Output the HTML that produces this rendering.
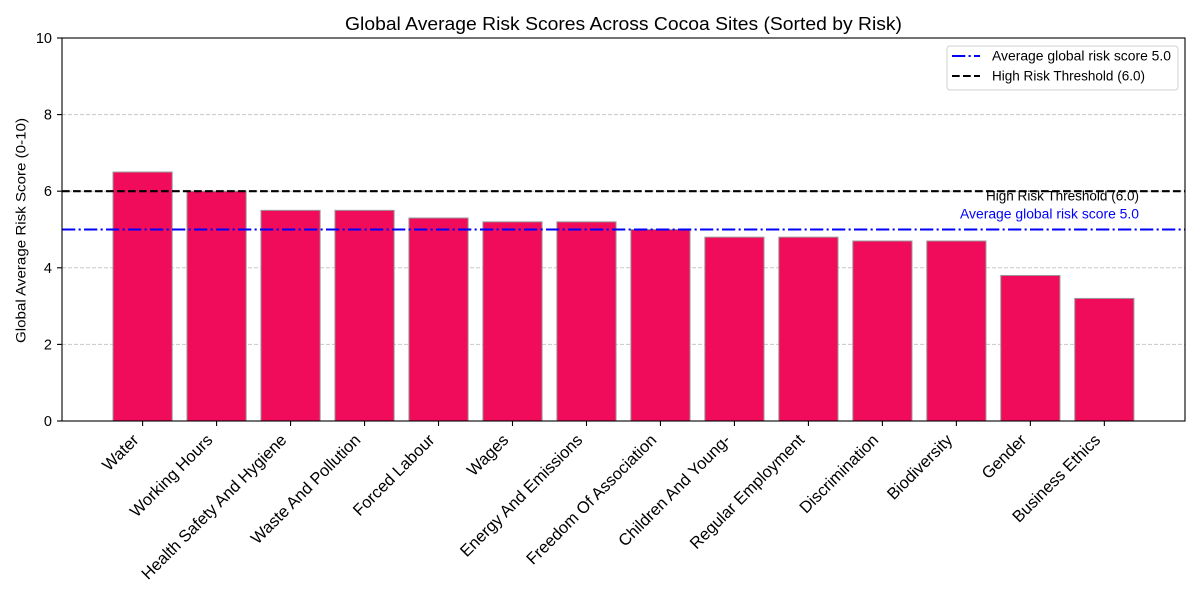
<!DOCTYPE html>
<html><head><meta charset="utf-8"><style>
html,body{margin:0;padding:0;background:#fff;}
svg{display:block;font-family:"Liberation Sans","DejaVu Sans",sans-serif;}
</style></head><body>
<svg width="1200" height="600" viewBox="0 0 1200 600" xmlns="http://www.w3.org/2000/svg">
<rect width="1200" height="600" fill="#fff"/>
<!-- grid -->
<g stroke="#c8c8c8" stroke-width="1" stroke-dasharray="4,2">
<line x1="62" y1="344.4" x2="1185" y2="344.4"/>
<line x1="62" y1="267.8" x2="1185" y2="267.8"/>
<line x1="62" y1="191.2" x2="1185" y2="191.2"/>
<line x1="62" y1="114.6" x2="1185" y2="114.6"/>
</g>
<!-- bars -->
<g fill="#f00c5a" stroke="#999" stroke-width="1">
<rect x="113.0" y="172.05" width="59.18" height="248.95"/>
<rect x="186.98" y="191.2" width="59.18" height="229.8"/>
<rect x="260.96" y="210.35" width="59.18" height="210.65"/>
<rect x="334.94" y="210.35" width="59.18" height="210.65"/>
<rect x="408.92" y="218.0" width="59.18" height="203.0"/>
<rect x="482.9" y="221.84" width="59.18" height="199.16"/>
<rect x="556.88" y="221.84" width="59.18" height="199.16"/>
<rect x="630.86" y="229.5" width="59.18" height="191.5"/>
<rect x="704.84" y="237.16" width="59.18" height="183.84"/>
<rect x="778.82" y="237.16" width="59.18" height="183.84"/>
<rect x="852.8" y="241.0" width="59.18" height="180.0"/>
<rect x="926.78" y="241.0" width="59.18" height="180.0"/>
<rect x="1000.76" y="275.46" width="59.18" height="145.54"/>
<rect x="1074.74" y="298.44" width="59.18" height="122.56"/>
</g>
<!-- reference lines -->
<line x1="62" y1="191.2" x2="1185" y2="191.2" stroke="#000" stroke-width="2.1" stroke-dasharray="7.7,3.3"/>
<line x1="62" y1="229.5" x2="1185" y2="229.5" stroke="#0000ff" stroke-width="2.1" stroke-dasharray="13.3,3.3,2.1,3.3"/>
<!-- annotations -->
<text x="1139" y="200.5" font-size="13.5" text-anchor="end" fill="#000" textLength="153" lengthAdjust="spacingAndGlyphs">High Risk Threshold (6.0)</text>
<text x="1139" y="218.5" font-size="13.5" text-anchor="end" fill="#0000ff" textLength="179" lengthAdjust="spacingAndGlyphs">Average global risk score 5.0</text>
<!-- axes spines -->
<rect x="62" y="38" width="1123" height="383" fill="none" stroke="#000" stroke-width="1.1"/>
<!-- y ticks -->
<g stroke="#000" stroke-width="1.1">
<line x1="57" y1="421" x2="62" y2="421"/>
<line x1="57" y1="344.4" x2="62" y2="344.4"/>
<line x1="57" y1="267.8" x2="62" y2="267.8"/>
<line x1="57" y1="191.2" x2="62" y2="191.2"/>
<line x1="57" y1="114.6" x2="62" y2="114.6"/>
<line x1="57" y1="38" x2="62" y2="38"/>
</g>
<g font-size="14.5" text-anchor="end" fill="#000">
<text x="52" y="426">0</text>
<text x="52" y="349.4">2</text>
<text x="52" y="272.8">4</text>
<text x="52" y="196.2">6</text>
<text x="52" y="119.6">8</text>
<text x="52" y="43">10</text>
</g>
<!-- x ticks -->
<g stroke="#000" stroke-width="1.1">
<line x1="142.6" y1="421" x2="142.6" y2="426"/>
<line x1="216.58" y1="421" x2="216.58" y2="426"/>
<line x1="290.56" y1="421" x2="290.56" y2="426"/>
<line x1="364.54" y1="421" x2="364.54" y2="426"/>
<line x1="438.52" y1="421" x2="438.52" y2="426"/>
<line x1="512.5" y1="421" x2="512.5" y2="426"/>
<line x1="586.48" y1="421" x2="586.48" y2="426"/>
<line x1="660.46" y1="421" x2="660.46" y2="426"/>
<line x1="734.44" y1="421" x2="734.44" y2="426"/>
<line x1="808.42" y1="421" x2="808.42" y2="426"/>
<line x1="882.4" y1="421" x2="882.4" y2="426"/>
<line x1="956.38" y1="421" x2="956.38" y2="426"/>
<line x1="1030.36" y1="421" x2="1030.36" y2="426"/>
<line x1="1104.34" y1="421" x2="1104.34" y2="426"/>
</g>
<g font-size="16.5" text-anchor="end" fill="#000">
<text x="139.6" y="441" transform="rotate(-45 139.6 441)">Water</text>
<text x="213.58" y="441" transform="rotate(-45 213.58 441)">Working Hours</text>
<text x="287.56" y="441" transform="rotate(-45 287.56 441)">Health Safety And Hygiene</text>
<text x="361.54" y="441" transform="rotate(-45 361.54 441)">Waste And Pollution</text>
<text x="435.52" y="441" transform="rotate(-45 435.52 441)">Forced Labour</text>
<text x="509.5" y="441" transform="rotate(-45 509.5 441)">Wages</text>
<text x="583.48" y="441" transform="rotate(-45 583.48 441)">Energy And Emissions</text>
<text x="657.46" y="441" transform="rotate(-45 657.46 441)">Freedom Of Association</text>
<text x="731.44" y="441" transform="rotate(-45 731.44 441)">Children And Young-</text>
<text x="805.42" y="441" transform="rotate(-45 805.42 441)">Regular Employment</text>
<text x="879.4" y="441" transform="rotate(-45 879.4 441)">Discrimination</text>
<text x="953.38" y="441" transform="rotate(-45 953.38 441)">Biodiversity</text>
<text x="1027.36" y="441" transform="rotate(-45 1027.36 441)">Gender</text>
<text x="1101.34" y="441" transform="rotate(-45 1101.34 441)">Business Ethics</text>
</g>
<!-- y label -->
<text x="25.5" y="230.5" font-size="14" text-anchor="middle" transform="rotate(-90 25.5 230.5)" textLength="225" lengthAdjust="spacingAndGlyphs">Global Average Risk Score (0-10)</text>
<!-- title -->
<text x="623.5" y="30" font-size="18" text-anchor="middle" textLength="557" lengthAdjust="spacingAndGlyphs">Global Average Risk Scores Across Cocoa Sites (Sorted by Risk)</text>
<!-- legend -->
<rect x="947" y="46" width="231" height="44" rx="3" ry="3" fill="#fff" fill-opacity="0.8" stroke="#d0d0d0" stroke-width="1"/>
<line x1="952" y1="56" x2="980" y2="56" stroke="#0000ff" stroke-width="2.1" stroke-dasharray="13.3,3.3,2.1,3.3"/>
<line x1="952" y1="76" x2="980" y2="76" stroke="#000" stroke-width="2.1" stroke-dasharray="7.7,3.3"/>
<text x="992" y="60.5" font-size="13.5" textLength="179" lengthAdjust="spacingAndGlyphs">Average global risk score 5.0</text>
<text x="992" y="80.5" font-size="13.5" textLength="153" lengthAdjust="spacingAndGlyphs">High Risk Threshold (6.0)</text>
</svg>
</body></html>
